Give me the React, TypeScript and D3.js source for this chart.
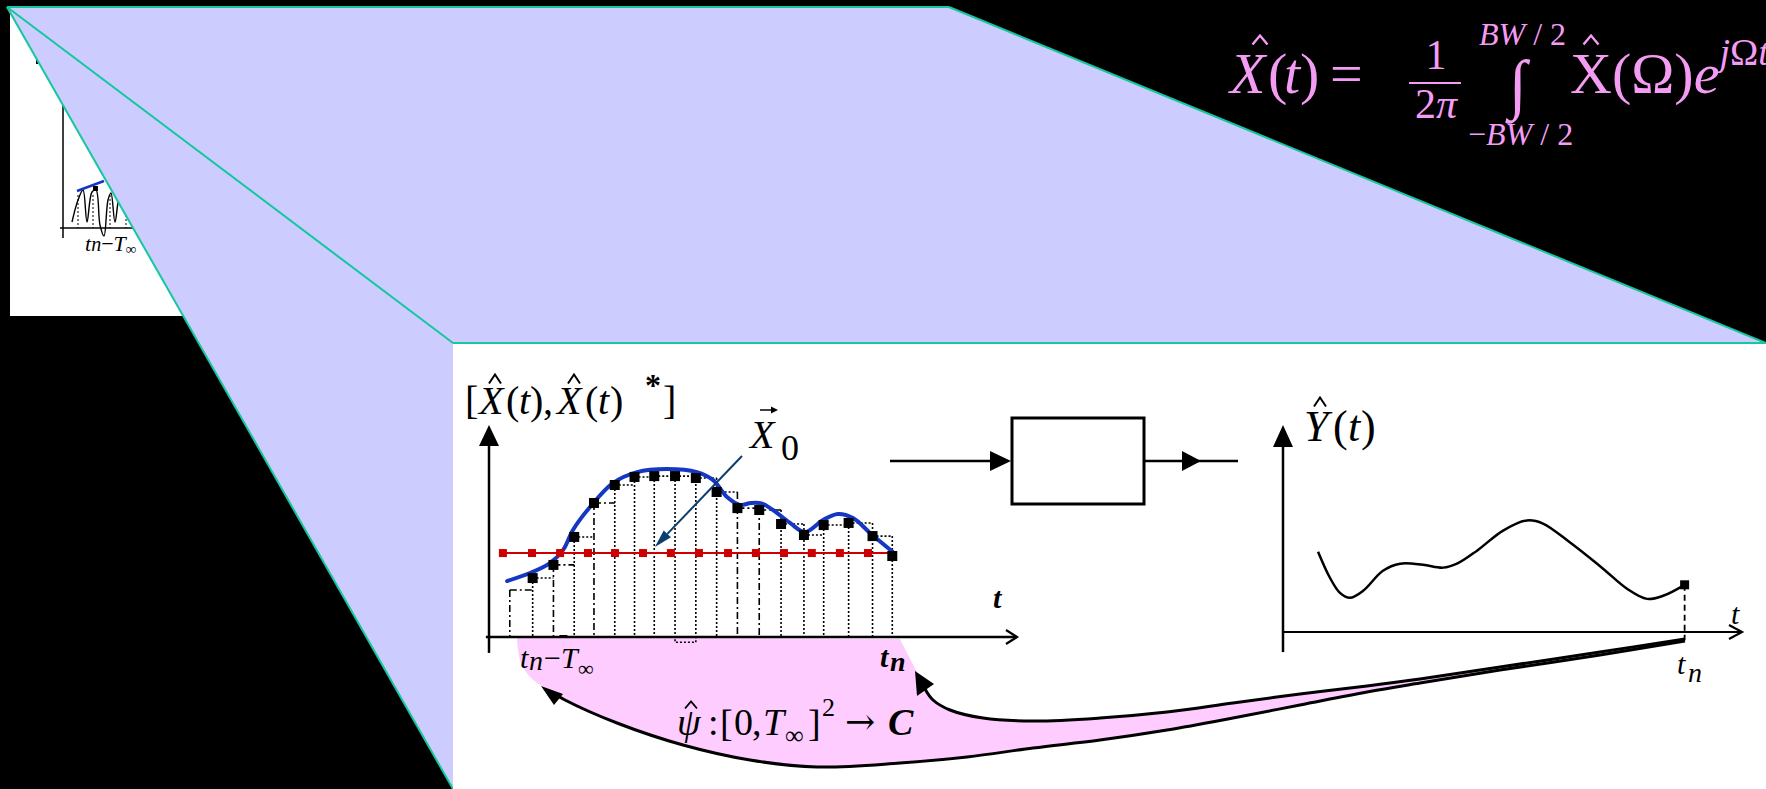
import React from "react";
import * as d3 from "d3";

const W = 1766;
const H = 789;
const SERIF = "'Liberation Serif', 'Times New Roman', Times, serif";
const SYMBOL = "'DejaVu Serif', 'Liberation Serif', serif";

// ---- Left chart: sampled input X̂(t) (time units, value units)
const sampleTimes = [1, 2.1, 3.1, 4.1, 5.05, 6.05, 7.0, 7.95, 8.95, 9.95, 10.95, 11.95, 13.0, 14.05, 15.15, 16.1, 17.3, 18.45, 19.4];
const sampleValues = [2.22, 2.78, 3.4, 4.72, 6.32, 7.17, 7.55, 7.59, 7.59, 7.5, 6.84, 6.08, 5.99, 5.33, 4.81, 5.28, 5.38, 4.76, 3.82];
const dashDotSamples = [0, 2, 4, 11, 12];

const blueTimes = [0.87, 1.97, 2.93, 3.56, 4.04, 4.86, 5.96, 7.12, 8.56, 10.0, 10.77, 11.45, 12.07, 12.6, 13.1, 13.66, 14.48, 15.2, 16.07, 16.79, 17.51, 18.33, 19.43];
const blueValues = [2.64, 3.02, 3.49, 4.10, 5.05, 6.13, 7.26, 7.78, 7.92, 7.78, 7.41, 6.60, 6.23, 6.32, 6.3, 5.99, 5.38, 4.95, 5.52, 5.80, 5.61, 4.91, 4.01];

const meanTimes = [0.67, 2.07, 3.42, 4.76, 6.06, 7.41, 8.75, 10.1, 11.5, 12.84, 14.19, 15.53, 16.88, 18.23];
const meanValue = 3.96;
const meanSpan = [0.53, 19.5];

// ---- Right chart: output Ŷ(t)
const outTimes = [1.68, 2.25, 2.73, 3.21, 3.84, 4.79, 5.61, 6.71, 7.67, 8.34, 9.3, 10.55, 11.7, 12.46, 13.76, 15.34, 16.49, 17.45, 18.22, 19.25];
const outValues = [3.88, 2.62, 1.89, 1.65, 1.99, 2.96, 3.3, 3.25, 3.11, 3.3, 3.93, 4.9, 5.39, 5.24, 4.32, 3.06, 2.09, 1.6, 1.75, 2.28];

// ---- Feedback annotation (page geometry of the curved arrows)
const upperArrow: [number, number][] = [[1685, 639], [1600, 652], [1500, 667], [1420, 679], [1367, 686], [1300, 694], [1233, 703], [1167, 712], [1100, 718], [1033, 721], [983, 718], [950, 710], [933, 700], [925, 689]];
const lowerArrow: [number, number][] = [[1685, 641], [1600, 655], [1500, 670], [1420, 683], [1367, 692], [1300, 705], [1233, 718], [1167, 730], [1100, 740], [1033, 748], [967, 757], [900, 763], [817, 767], [750, 760], [683, 745], [617, 723], [565, 700], [555, 694]];
const pinkRightEdge: [number, number][] = [[900, 639], [908, 655], [917, 672]];
const pinkLeftEdge: [number, number][] = [[542, 686], [530, 677], [521, 663], [518, 650], [517, 637]];

// inset mini chart wiggle (top-left thumbnail)
const miniWave: [number, number][] = [[72, 222], [78, 200], [83, 190], [87, 222], [92, 192], [96, 190], [100, 225], [104, 236], [108, 200], [111, 193], [115, 222], [120, 195], [125, 192]];

const BLUE = "#1438c4";
const RED = "#cc0000";
const NAVY = "#0b3d6e";
const PINK = "#ffccff";
const FORMULA = "#f49cf4";
const LAV = "#ccccff";
const TEAL = "#14c79c";

function Hat({ cx, cy, w, h, color = "#000", sw = 1.8 }: { cx: number; cy: number; w: number; h: number; color?: string; sw?: number }) {
  return (
    <path
      d={`M${cx - w / 2},${cy + h / 2}L${cx},${cy - h / 2}L${cx + w / 2},${cy + h / 2}`}
      fill="none"
      stroke={color}
      strokeWidth={sw}
      strokeLinejoin="miter"
    />
  );
}

export default function App() {
  const xL = d3.scaleLinear().domain([0, 25.4]).range([489, 1017]);
  const yL = d3.scaleLinear().domain([0, 10]).range([637, 425]);
  const xR = d3.scaleLinear().domain([0, 22]).range([1283, 1742]);
  const yR = d3.scaleLinear().domain([0, 10]).range([632, 425]);

  const blueLine = d3
    .line<number>()
    .x((_, i) => xL(blueTimes[i]))
    .y((d) => yL(d))
    .curve(d3.curveCatmullRom.alpha(0.5))(blueValues) as string;

  const outLine = d3
    .line<number>()
    .x((_, i) => xR(outTimes[i]))
    .y((d) => yR(d))
    .curve(d3.curveCatmullRom.alpha(0.5))(outValues) as string;

  const smooth = d3.line<[number, number]>().curve(d3.curveCatmullRom.alpha(0.5));
  const cont = (pts: [number, number][]) => (smooth(pts) as string).replace(/^M/, "L");
  const pinkPath =
    `M${pinkLeftEdge[pinkLeftEdge.length - 1][0]},${pinkLeftEdge[pinkLeftEdge.length - 1][1]}` +
    cont([...pinkRightEdge, ...upperArrow.slice().reverse()]) +
    cont(lowerArrow) +
    cont(pinkLeftEdge) +
    "Z";

  const n = sampleTimes.length;
  const y0 = yL(0);
  const steps = sampleTimes.map((t, i) => {
    const x = xL(t);
    const y = yL(sampleValues[i]);
    const prevY = i > 0 ? yL(sampleValues[i - 1]) : y;
    return { x, y, top: Math.min(y, prevY), nextX: i < n - 1 ? xL(sampleTimes[i + 1]) : null, i };
  });

  const tnR = outTimes[outTimes.length - 1];
  const tnRx = xR(tnR);
  const tnRy = yR(outValues[outValues.length - 1]);

  // navy pointer to mean line (left chart units)
  const ptrFrom: [number, number] = [xL(12.17), yL(8.54)];
  const ptrTo: [number, number] = [xL(7.98), yL(4.25)];
  const dx = ptrFrom[0] - ptrTo[0];
  const dy = ptrFrom[1] - ptrTo[1];
  const len = Math.hypot(dx, dy);
  const ux = dx / len, uy = dy / len;
  const bx = ptrTo[0] + ux * 18, by = ptrTo[1] + uy * 18;
  const ptrHead = `M${ptrTo[0]},${ptrTo[1]}L${bx - uy * 5},${by + ux * 5}L${bx + uy * 5},${by - ux * 5}Z`;

  const T: React.CSSProperties = { fontFamily: SERIF };

  return (
    <svg width={W} height={H} style={{ position: "fixed", left: 0, top: 0, display: "block" }} xmlns="http://www.w3.org/2000/svg">
      <rect x={0} y={0} width={W} height={H} fill="#000" />

      {/* top-left thumbnail slide */}
      <rect x={10} y={7} width={174} height={309} fill="#fff" />
      <line x1={63} y1={105} x2={63} y2={238} stroke="#000" strokeWidth={1.5} />
      <line x1={60} y1={228} x2={190} y2={228} stroke="#000" strokeWidth={1.5} />
      {[78, 93, 110, 126].map((x) => (
        <line key={x} x1={x} y1={195} x2={x} y2={228} stroke="#000" strokeWidth={1} strokeDasharray="2 2" />
      ))}
      <path d={smooth(miniWave) as string} fill="none" stroke="#000" strokeWidth={1.4} />
      <line x1={77} y1={191} x2={104} y2={181} stroke={BLUE} strokeWidth={2.5} />
      <rect x={93} y={186} width={5} height={5} fill="#000" />
      <rect x={36} y={60} width={2} height={4} fill="#000" />
      <text x={85} y={251} fontSize={22} style={T} fontStyle="italic">
        t<tspan fontSize={20}>n</tspan>
        <tspan fontStyle="normal">−</tspan>T<tspan fontSize={15} dy={3} fontStyle="normal">∞</tspan>
      </text>

      {/* lavender projection */}
      <path d="M7,7 L949,7 L1766,343 L453,343 L453,789 Z" fill={LAV} />
      <g stroke={TEAL} strokeWidth={2} fill="none">
        <line x1={7} y1={7} x2={949} y2={7} />
        <line x1={949} y1={7} x2={1766} y2={343} />
        <line x1={453} y1={343} x2={1766} y2={343} />
        <line x1={7} y1={7} x2={453} y2={343} />
        <line x1={7} y1={7} x2={453} y2={789} />
      </g>

      {/* main white slide */}
      <rect x={453} y={344} width={W - 453} height={H - 344} fill="#fff" />

      {/* formula */}
      <g fill={FORMULA} style={T}>
        <text x={1230} y={93} fontSize={58} fontStyle="italic">X</text>
        <Hat cx={1260} cy={40} w={15} h={9} color={FORMULA} sw={2.4} />
        <text x={1268} y={93} fontSize={58}>(</text>
        <text x={1284} y={93} fontSize={58} fontStyle="italic">t</text>
        <text x={1300} y={93} fontSize={58}>)</text>
        <text x={1330} y={93} fontSize={58}>=</text>
        <text x={1436} y={69} fontSize={42} textAnchor="middle">1</text>
        <line x1={1409} y1={83} x2={1461} y2={83} stroke={FORMULA} strokeWidth={2} />
        <text x={1436} y={118} fontSize={42} textAnchor="middle">
          2<tspan fontStyle="italic">π</tspan>
        </text>
        <text x={1518} y={106} fontSize={66} textAnchor="middle">∫</text>
        <text x={1479} y={45} fontSize={32}>
          <tspan fontStyle="italic">BW</tspan> / 2
        </text>
        <text x={1468} y={145} fontSize={32}>
          −<tspan fontStyle="italic">BW</tspan> / 2
        </text>
        <text x={1570} y={93} fontSize={58}>
          X(Ω)<tspan fontStyle="italic">e</tspan>
          <tspan fontSize={38} dy={-28} fontStyle="italic">j</tspan>
          <tspan fontSize={38}>Ω</tspan>
          <tspan fontSize={38} fontStyle="italic">t</tspan>
        </text>
        <Hat cx={1591} cy={40} w={15} h={9} color={FORMULA} sw={2.4} />
      </g>

      {/* pink feedback region */}
      <path d={pinkPath} fill={PINK} stroke="none" />

      {/* left chart: step samples */}
      <g stroke="#000" strokeWidth={1.6} fill="none">
        {steps.map((s) => (
          <g key={s.i} strokeDasharray={dashDotSamples.includes(s.i) ? "7 3 2 3" : "2 2"}>
            <line x1={s.x} y1={s.top} x2={s.x} y2={y0} />
            {s.nextX !== null && <line x1={s.x} y1={s.y} x2={s.nextX} y2={s.y} />}
          </g>
        ))}
        <rect x={xL(sampleTimes[8])} y={y0} width={xL(sampleTimes[9]) - xL(sampleTimes[8])} height={yL(-0.25) - y0} strokeDasharray="2 2" />
      </g>
      <rect x={xL(sampleTimes[2]) + 6} y={y0 - 2} width={8} height={2} fill="#000" />

      <path d={blueLine} fill="none" stroke={BLUE} strokeWidth={4} strokeLinecap="round" />

      <line x1={xL(meanSpan[0])} y1={yL(meanValue)} x2={xL(meanSpan[1])} y2={yL(meanValue)} stroke={RED} strokeWidth={2} />
      {meanTimes.map((t) => (
        <rect key={t} x={xL(t) - 4} y={yL(meanValue) - 4} width={8} height={8} fill={RED} />
      ))}

      {steps.slice(1).map((s) => (
        <rect key={s.i} x={s.x - 5} y={s.y - 5} width={10} height={10} fill="#000" />
      ))}

      {/* left axes */}
      <line x1={xL(-0.15)} y1={y0} x2={xL(25.4)} y2={y0} stroke="#000" strokeWidth={2.5} />
      <path d={`M${xL(25.4) - 11},${y0 - 7}L${xL(25.4)},${y0}L${xL(25.4) - 11},${y0 + 7}`} fill="none" stroke="#000" strokeWidth={2.2} />
      <line x1={xL(0)} y1={yL(-0.75)} x2={xL(0)} y2={yL(9.3)} stroke="#000" strokeWidth={2.5} />
      <path d={`M${xL(0)},${yL(10)}L${xL(0) - 10},${yL(10) + 21}L${xL(0) + 10},${yL(10) + 21}Z`} fill="#000" />

      {/* navy pointer */}
      <line x1={ptrFrom[0]} y1={ptrFrom[1]} x2={bx} y2={by} stroke={NAVY} strokeWidth={2} />
      <path d={ptrHead} fill={NAVY} />

      {/* left labels */}
      <g style={T} fontSize={40} fill="#000">
        <text x={465} y={414}>[</text>
        <text x={479} y={414} fontStyle="italic">X</text>
        <Hat cx={495} cy={379} w={12} h={9} sw={2} />
        <text x={506} y={414}>(</text>
        <text x={519} y={414} fontStyle="italic">t</text>
        <text x={530} y={414}>)</text>
        <text x={543} y={414}>,</text>
        <text x={557} y={414} fontStyle="italic">X</text>
        <Hat cx={574} cy={379} w={12} h={9} sw={2} />
        <text x={585} y={414}>(</text>
        <text x={598} y={414} fontStyle="italic">t</text>
        <text x={610} y={414}>)</text>
        <text x={645} y={396} fontSize={32} fontWeight="bold">*</text>
        <text x={663} y={414}>]</text>
      </g>
      <g style={T} fill="#000">
        <line x1={760} y1={410} x2={775} y2={410} stroke="#000" strokeWidth={1.5} />
        <path d="M778,410L771,406.5L771,413.5Z" fill="#000" />
        <text x={750} y={448} fontSize={40} fontStyle="italic">X</text>
        <text x={781} y={460} fontSize={36}>0</text>
      </g>
      <text x={993} y={608} fontSize={30} style={T} fontStyle="italic" fontWeight="bold">t</text>
      <g style={T} fontStyle="italic">
        <text x={520} y={668} fontSize={30}>t</text>
        <text x={529} y={670} fontSize={28}>n</text>
        <text x={544} y={668} fontSize={30} fontStyle="normal">−</text>
        <text x={561} y={668} fontSize={30}>T</text>
        <text x={578} y={676} fontSize={22} fontStyle="normal">∞</text>
      </g>
      <g style={T} fontStyle="italic" fontWeight="bold">
        <text x={880} y={667} fontSize={30}>t</text>
        <text x={890} y={671} fontSize={28}>n</text>
      </g>

      {/* block diagram */}
      <g stroke="#000" strokeWidth={2.5}>
        <line x1={890} y1={461} x2={995} y2={461} />
        <rect x={1012} y={418} width={132} height={86} fill="none" strokeWidth={3} />
        <line x1={1144} y1={461} x2={1238} y2={461} />
      </g>
      <path d="M990,451L1011,461L990,471Z" fill="#000" />
      <path d="M1182,451L1201,461L1182,471Z" fill="#000" />

      {/* right chart */}
      <path d={outLine} fill="none" stroke="#000" strokeWidth={2.5} />
      <rect x={tnRx - 4.5} y={tnRy - 4.5} width={9} height={9} fill="#000" />
      <line x1={tnRx} y1={tnRy} x2={tnRx} y2={yR(-0.4)} stroke="#000" strokeWidth={1.8} strokeDasharray="6 4" />
      <line x1={xR(0)} y1={yR(0)} x2={xR(22)} y2={yR(0)} stroke="#000" strokeWidth={2.2} />
      <path d={`M${xR(22) - 13},${yR(0) - 7}L${xR(22)},${yR(0)}L${xR(22) - 13},${yR(0) + 7}`} fill="none" stroke="#000" strokeWidth={2.2} />
      <line x1={xR(0)} y1={yR(-0.97)} x2={xR(0)} y2={yR(9.3)} stroke="#000" strokeWidth={2.5} />
      <path d={`M${xR(0)},${yR(10)}L${xR(0) - 10},${yR(10) + 22}L${xR(0) + 10},${yR(10) + 22}Z`} fill="#000" />

      <g style={T} fill="#000">
        <text x={1304} y={441} fontSize={44} fontStyle="italic">Y</text>
        <Hat cx={1320} cy={402} w={12} h={9} sw={2} />
        <text x={1333} y={441} fontSize={44}>(</text>
        <text x={1348} y={441} fontSize={44} fontStyle="italic">t</text>
        <text x={1361} y={441} fontSize={44}>)</text>
        <text x={1731} y={624} fontSize={30} fontStyle="italic">t</text>
        <text x={1677} y={674} fontSize={30} fontStyle="italic">t</text>
        <text x={1688} y={682} fontSize={28} fontStyle="italic">n</text>
      </g>

      {/* feedback arrows */}
      <path d={smooth(upperArrow) as string} fill="none" stroke="#000" strokeWidth={3} />
      <path d="M915,671L934,684L917,696Z" fill="#000" />
      <path d={smooth(lowerArrow) as string} fill="none" stroke="#000" strokeWidth={3} />
      <path d="M541,686L563,694L554,705Z" fill="#000" />

      {/* mapping label */}
      <g style={T} fill="#000" fontSize={38}>
        <text x={677} y={735} fontStyle="italic">ψ</text>
        <Hat cx={691} cy={705} w={12} h={7} sw={1.8} />
        <text x={708} y={735}>:</text>
        <text x={720} y={736}>[</text>
        <text x={734} y={735}>0</text>
        <text x={752} y={735}>,</text>
        <text x={763} y={735} fontStyle="italic">T</text>
        <text x={785} y={744} fontSize={26}>∞</text>
        <text x={808} y={736}>]</text>
        <text x={822} y={716} fontSize={26}>2</text>
        <text x={845} y={734} fontSize={36} style={{ fontFamily: SYMBOL }}>→</text>
        <text x={888} y={735} fontStyle="italic" fontWeight="bold">C</text>
      </g>
    </svg>
  );
}
